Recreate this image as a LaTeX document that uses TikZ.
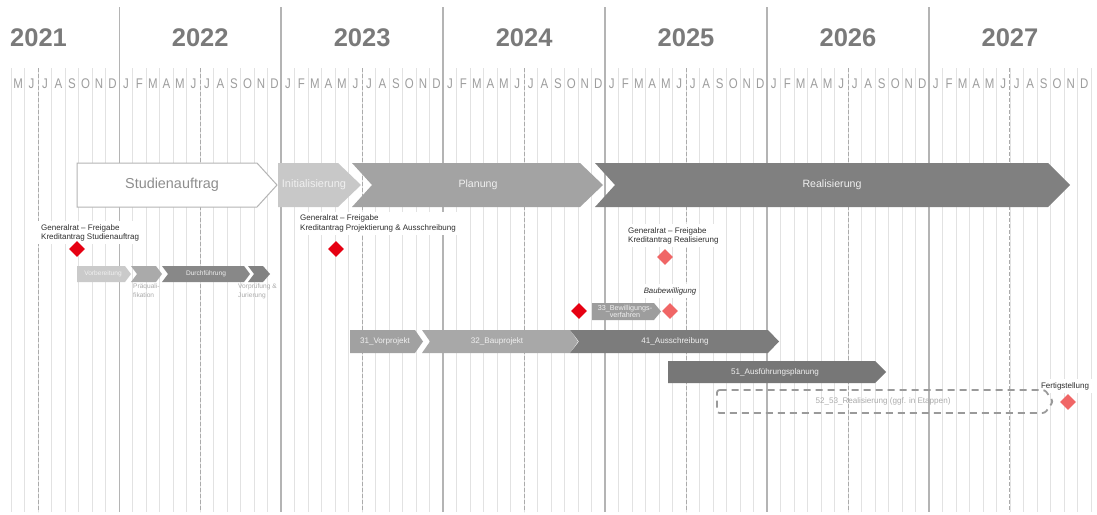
\documentclass[tikz,border=0pt]{standalone}
\usepackage{fontspec}
\setmainfont{Liberation Sans}
\usetikzlibrary{shapes.geometric}
\definecolor{monthgray}{HTML}{E2E2E2}
\definecolor{yeargray}{HTML}{B4B4B4}
\definecolor{julygray}{HTML}{ABABAB}
\definecolor{yeartext}{HTML}{7A7A7A}
\definecolor{montext}{HTML}{9E9E9E}
\definecolor{notetext}{HTML}{2E2E2E}
\definecolor{cInit}{HTML}{C8C8C8}
\definecolor{cPlan}{HTML}{A3A3A3}
\definecolor{cReal}{HTML}{808080}
\definecolor{cVorb}{HTML}{CACACA}
\definecolor{cPraq}{HTML}{AAAAAA}
\definecolor{cDurch}{HTML}{888888}
\definecolor{cVorp}{HTML}{828282}
\definecolor{cBew}{HTML}{9D9D9D}
\definecolor{cVorpj}{HTML}{A1A1A1}
\definecolor{cBaupj}{HTML}{A8A8A8}
\definecolor{cAus}{HTML}{7C7C7C}
\definecolor{cAfp}{HTML}{777777}
\definecolor{msred}{HTML}{E60012}
\definecolor{mspink}{HTML}{F06666}
\definecolor{lighttext}{HTML}{ABABAB}
\newcommand{\chevshape}[7]{\path[#1] (#2,#4) -- ({#3-#7},#4) -- (#3,{(#4+#5)/2}) -- ({#3-#7},#5) -- (#2,#5) -- ({#2+#6},{(#4+#5)/2}) -- cycle;}
\tikzset{
  monthline/.style={draw=monthgray, line width=0.8pt},
  yearline/.style={draw=yeargray, line width=1.5pt},
  julyline/.style={draw=julygray, line width=0.9pt, dash pattern=on 3.5pt off 2.5pt},
  yearlbl/.style={font=\fontsize{25.5}{25.5}\selectfont\bfseries, text=yeartext, inner sep=0pt},
  mon/.style={font=\fontsize{14}{14}\selectfont, text=montext, inner sep=0pt},
  note/.style={font=\fontsize{8}{9.3}\selectfont, text=notetext, fill=white, align=left, inner sep=3pt},
  phaselbl/.style={font=\fontsize{10.6}{10.6}\selectfont, text=white!94!black, inner sep=0pt},
  rowlbl/.style={font=\fontsize{8.1}{8}\selectfont, text=white!94!black, inner sep=0pt, align=center},
  sublbl/.style={font=\fontsize{6.6}{8.5}\selectfont, text=white!94!black, inner sep=0pt},
  sublow/.style={font=\fontsize{6.6}{8.6}\selectfont, text=lighttext, inner sep=0pt, align=left},
  msr/.style={diamond, fill=msred, minimum width=16pt, minimum height=16pt, inner sep=0pt},
  msp/.style={diamond, fill=mspink, minimum width=16pt, minimum height=16pt, inner sep=0pt},
  dashbox/.style={draw=julygray!90!black, line width=1.8pt, dash pattern=on 7pt off 5pt, rounded corners=2.5pt},
}
\begin{document}
\begin{tikzpicture}[x=1pt,y=-1pt]
\useasboundingbox[fill=white] (0,0) rectangle (1097,514);
% month grid
\foreach \m in {0,...,80} \draw[monthline] ({11.3+\m*13.495},68) -- ({11.3+\m*13.495},512);
\foreach \m in {2,14,26,38,50,62,74} \draw[julyline] ({11.3+\m*13.495},68) -- ({11.3+\m*13.495},512);
\foreach \m in {8,20,32,44,56,68} \draw[yearline] ({11.3+\m*13.495},7) -- ({11.3+\m*13.495},512);
% years
\node[yearlbl, anchor=west] (y2021) at (10,38) {2021};
\foreach \yr [count=\k from 0] in {2022,2023,2024,2025,2026,2027}
  \node[yearlbl] (y\yr) at ({11.3+(14+12*\k)*13.495},38) {\yr};
% month letters
\foreach \l [count=\i from 0] in {M,J,J,A,S,O,N,D}
  \node[mon] (m\i) at ({11.3+(\i+0.5)*13.495},84) {\scalebox{0.82}[1]{\l}};
\foreach \k in {0,...,5}
  \foreach \l [count=\i from 0] in {J,F,M,A,M,J,J,A,S,O,N,D}
    \node[mon] at ({11.3+(8+12*\k+\i+0.5)*13.495},84) {\scalebox{0.82}[1]{\l}};
% notes with white backgrounds
\node[note, anchor=north west] (gf1) at (38,221) {Generalrat – Freigabe\\Kreditantrag Studienauftrag};
\node[note, anchor=north west] (gf2) at (297,212) {Generalrat – Freigabe\\Kreditantrag Projektierung \& Ausschreibung};
\node[note, anchor=north west] (gf3) at (625,224) {Generalrat – Freigabe\\Kreditantrag Realisierung};
\node[note, font=\fontsize{7.8}{9}\selectfont\itshape] (baub) at (670,291) {Baubewilligung};
\node[note] (fert) at (1065,386) {Fertigstellung};
% main phases
\chevshape{draw=yeargray, line width=1pt, fill=white}{77}{277}{163}{207}{0}{20}
\node[font=\fontsize{14.4}{14.4}\selectfont, text=yeartext!85!white, inner sep=0pt] (stud) at (172,185) {Studienauftrag};
\chevshape{fill=cInit}{278}{361}{163}{207}{0}{23}
\node[phaselbl, font=\fontsize{11}{11}\selectfont] (init) at (314,185) {Initialisierung};
\chevshape{fill=cPlan}{352}{603}{163}{207}{20}{23}
\node[phaselbl] (plan) at (478,185) {Planung};
\chevshape{fill=cReal}{595}{1070}{163}{207}{20}{22}
\node[phaselbl] (real) at (832,185) {Realisierung};
% study sub-phases
\chevshape{fill=cVorb}{77}{131}{266}{282}{0}{6}
\node[sublbl] (vorb) at (103,274) {Vorbereitung};
\chevshape{fill=cPraq}{131}{162}{266}{282}{6}{6}
\chevshape{fill=cDurch}{162}{250}{266}{282}{6}{6}
\node[sublbl] (durch) at (206,274) {Durchführung};
\chevshape{fill=cVorp}{248}{270}{266}{282}{6}{7}
\node[sublow, anchor=north west] (praq) at (133,284) {Präquali-\\fikation};
\node[sublow, anchor=north west] (vorp) at (238,284) {Vorprüfung \&\\Jurierung};
% project steps
\chevshape{fill=cBew}{592}{661}{303}{320}{0}{7}
\node[rowlbl, font=\fontsize{7.2}{7.6}\selectfont] (bew) at (625,311.5) {33\_Bewilligungs-\\verfahren};
\chevshape{fill=cVorpj}{350}{423}{330}{353}{0}{8}
\node[rowlbl] (vp) at (385,341.5) {31\_Vorprojekt};
\chevshape{fill=cBaupj}{422}{578}{330}{353}{8}{8}
\node[rowlbl] (bp) at (497,341.5) {32\_Bauprojekt};
\chevshape{fill=cAus}{570}{779}{330}{353}{9}{11}
\node[rowlbl] (aus) at (675,341.5) {41\_Ausschreibung};
\chevshape{fill=cAfp}{668}{886}{361}{383}{0}{11}
\node[rowlbl] (afp) at (775,372) {51\_Ausführungsplanung};
\draw[dashbox] (717,390) -- (1045,390) -- (1053,401.5) -- (1045,413) -- (717,413) -- cycle;
\node[rowlbl, text=lighttext] (realetap) at (883,401.5) {52\_53\_Realisierung (ggf. in Etappen)};
% milestones
\node[msr] (ms1) at (77,249) {};
\node[msr] (ms2) at (336,249) {};
\node[msp] (ms3) at (665,257) {};
\node[msr] (ms4) at (579,311) {};
\node[msp] (ms5) at (670,311) {};
\node[msp] (ms6) at (1068,402) {};
\end{tikzpicture}
\end{document}
